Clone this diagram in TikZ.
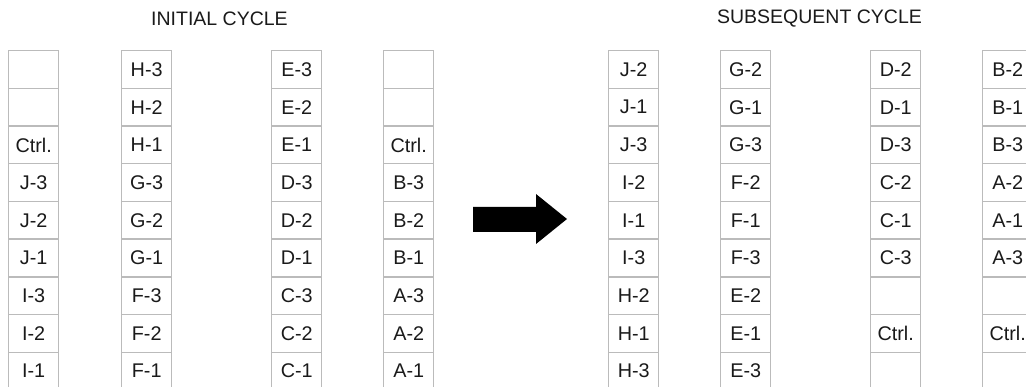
\documentclass[tikz,border=0pt]{standalone}
\usepackage{fontspec}
\setmainfont{Liberation Sans}
\definecolor{cellgray}{HTML}{BBBBBB}
\definecolor{ink}{HTML}{1A1A1A}
% one column of slot cells: #1 name prefix, #2 left edge, #3 labels top to bottom
\newcommand\slotcolumn[3]{%
  \foreach \t [count=\r] in {#3} {
    \node[cell] (#1-\r) at (#2, {50+(\r-1)*37.7}) {\t};
  }%
}
\begin{document}
\begin{tikzpicture}[x=1pt, y=-1pt,
  cell/.style={draw=cellgray, line width=1.4pt, minimum width=50pt,
    minimum height=37.7pt, inner sep=0pt, anchor=north west,
    font=\fontsize{19.8}{19.8}\selectfont, text=ink},
  title/.style={font=\fontsize{19.5}{19.5}\selectfont, text=ink, inner sep=0pt}]
\useasboundingbox (0,0) rectangle (1026,387);
\clip (0,0) rectangle (1026,387);

\node[title] (initial) at (219.5,19) {INITIAL CYCLE};
\node[title] (subsequent) at (819.5,19) {SUBSEQUENT CYCLE};

% initial cycle
\slotcolumn{a}{8}{{},{},Ctrl.,J-3,J-2,J-1,I-3,I-2,I-1}
\slotcolumn{b}{121}{H-3,H-2,H-1,G-3,G-2,G-1,F-3,F-2,F-1}
\slotcolumn{c}{271}{E-3,E-2,E-1,D-3,D-2,D-1,C-3,C-2,C-1}
\slotcolumn{d}{383}{{},{},Ctrl.,B-3,B-2,B-1,A-3,A-2,A-1}

% subsequent cycle
\slotcolumn{e}{608}{J-2,J-1,J-3,I-2,I-1,I-3,H-2,H-1,H-3}
\slotcolumn{f}{720}{G-2,G-1,G-3,F-2,F-1,F-3,E-2,E-1,E-3}
\slotcolumn{g}{870}{D-2,D-1,D-3,C-2,C-1,C-3,{},Ctrl.,{}}
\slotcolumn{h}{982}{B-2,B-1,B-3,A-2,A-1,A-3,{},Ctrl.,{}}

% block arrow between the two cycles
\fill[black] (473,207) -- (536,207) -- (536,194) -- (567,219)
  -- (536,244) -- (536,232) -- (473,232) -- cycle;
\end{tikzpicture}
\end{document}
